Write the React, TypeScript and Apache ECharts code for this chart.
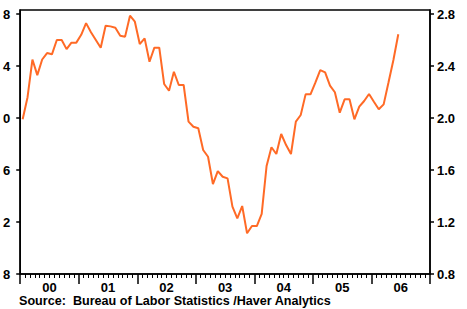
import React, { useEffect, useRef } from "react";
import * as echarts from "echarts";

const yearLabels = ["00", "01", "02", "03", "04", "05", "06"];
const yTicks = [0.8, 1.2, 1.6, 2.0, 2.4, 2.8];
// Monthly values, Jan 2000 - Jun 2006
const values = [
  1.99, 2.16, 2.45, 2.33, 2.45, 2.5, 2.49, 2.6, 2.6, 2.53, 2.58, 2.58,
  2.64, 2.73, 2.66, 2.6, 2.54, 2.71, 2.705, 2.695, 2.633, 2.626, 2.787, 2.741,
  2.569, 2.613, 2.433, 2.541, 2.541, 2.262, 2.21, 2.356, 2.254, 2.254, 1.972, 1.933,
  1.921, 1.754, 1.702, 1.492, 1.592, 1.548, 1.536, 1.318, 1.228, 1.323, 1.113, 1.169,
  1.169, 1.262, 1.631, 1.775, 1.723, 1.877, 1.792, 1.723, 1.972, 2.023, 2.182, 2.182,
  2.272, 2.369, 2.351, 2.249, 2.198, 2.041, 2.144, 2.144, 1.99, 2.087, 2.131, 2.185,
  2.125, 2.067, 2.105, 2.275, 2.446, 2.644,
];
const sourceText = "Source:  Bureau of Labor Statistics /Haver Analytics";

export default function App() {
  const ref = useRef<HTMLDivElement>(null);
  useEffect(() => {
    if (!ref.current) return;
    const chart = echarts.init(ref.current, null, { renderer: "svg" });
    const font = "'Liberation Sans', Arial, Helvetica, sans-serif";
    const black = "#000";
    const yAxisBase = {
      type: "value",
      min: 0.8,
      max: 2.831,
      splitLine: { show: false },
      axisLine: { show: true, lineStyle: { color: black, width: 1.5 } },
      axisTick: { show: true, length: 4, customValues: yTicks, lineStyle: { color: black, width: 1.5 } },
    };
    chart.setOption({
      animation: false,
      grid: {
        left: 18,
        right: 37,
        top: 10,
        bottom: 35,
        show: true,
        borderColor: black,
        borderWidth: 1.5,
        backgroundColor: "transparent",
      },
      xAxis: {
        type: "value",
        min: 0,
        max: yearLabels.length * 12,
        interval: 12,
        splitLine: { show: false },
        axisLine: { show: true, lineStyle: { color: black, width: 1.5 } },
        axisTick: { show: true, length: 10, lineStyle: { color: black, width: 1.5 } },
        minorTick: { show: true, splitNumber: 12, length: 4, lineStyle: { color: black, width: 1 } },
        minorSplitLine: { show: false },
        axisLabel: {
          customValues: yearLabels.map((_, k) => k * 12 + 6),
          formatter: (v: number) => yearLabels[Math.floor(v / 12)] ?? "",
          color: black,
          fontFamily: font,
          fontWeight: "bold",
          fontSize: 13,
          margin: 7,
        },
      },
      yAxis: [
        {
          ...yAxisBase,
          position: "left",
          axisLabel: {
            customValues: yTicks,
            formatter: (v: number) => v.toFixed(1).slice(-1),
            color: black,
            fontFamily: font,
            fontWeight: "bold",
            fontSize: 13,
            margin: 10,
          },
        },
        {
          ...yAxisBase,
          position: "right",
          axisLabel: {
            customValues: yTicks,
            formatter: (v: number) => v.toFixed(1),
            color: black,
            fontFamily: font,
            fontWeight: "bold",
            fontSize: 13,
            margin: 7,
          },
        },
      ],
      series: [
        {
          type: "line",
          yAxisIndex: 0,
          data: values.map((v, i) => [i + 0.5, v]),
          symbol: "none",
          lineStyle: { color: "#ff6a26", width: 2 },
        },
      ],
      graphic: [
        {
          type: "text",
          left: 19,
          top: 294,
          style: {
            text: sourceText,
            fill: black,
            font: `bold 12.6px ${font}`,
          },
        },
      ],
    });
    return () => chart.dispose();
  }, []);
  return (
    <div
      ref={ref}
      style={{ position: "absolute", left: 0, top: 0, width: 467, height: 309 }}
    />
  );
}
